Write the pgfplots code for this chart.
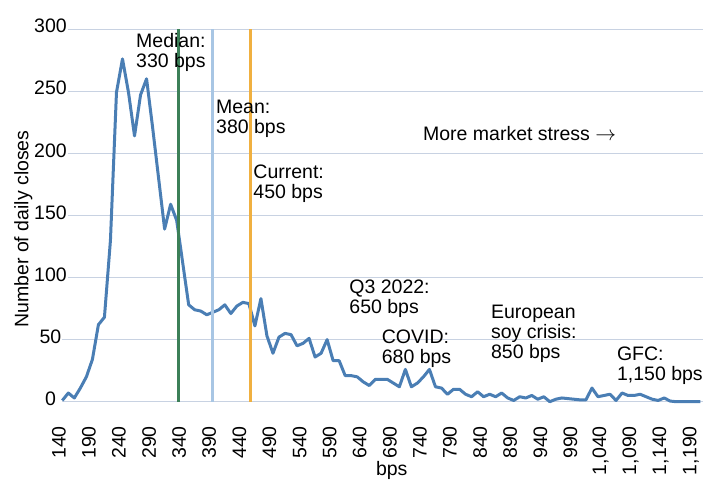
\documentclass[border=0pt]{standalone}
\usepackage{fontspec}
\setmainfont{Liberation Sans}
\usepackage{pgfplots}
\pgfplotsset{compat=1.18}
\definecolor{linecol}{RGB}{74,126,180}
\definecolor{medcol}{RGB}{60,128,88}
\definecolor{meancol}{RGB}{168,198,228}
\definecolor{curcol}{RGB}{240,176,64}
\definecolor{gridcol}{RGB}{200,210,226}
\newcommand{\f}{\fontsize{19.5}{20}\selectfont}
\begin{document}
\begin{tikzpicture}
\begin{axis}[
 at={(0,0)}, anchor=south west,
 scale only axis, width=641pt, height=372.6pt,
 xmin=140, xmax=1205, ymin=0, ymax=300,
 axis line style={draw=none},
 tick style={draw=none},
 ymajorgrids, grid style={gridcol, line width=1.2pt},
 ytick={0,50,...,300},
 xtick={140,190,...,1190},
 /pgf/number format/assume math mode=true,
 /pgf/number format/1000 sep={,},
 tick label style={font=\f},
 xticklabel style={inner sep=0pt, xshift=-3.5pt, yshift=-24.3pt, rotate=90, anchor=east},
 yticklabel style={inner sep=1pt, fill=white, xshift=-11.8pt, yshift=3pt, anchor=center},
 xlabel={bps}, ylabel={Number of daily closes},
 label style={font=\f},
 xlabel style={at={(axis description cs:0.514,-0.1994)}, anchor=base},
 ylabel style={at={(axis description cs:-0.0608,0.4635)}, anchor=center},
 clip=false,
]
\addplot[linecol, line width=3pt, line join=round, mark=none] coordinates {
(140,1) (150,7) (160,3) (170,11) (180,20) (190,34) (200,62) (210,68) (220,130) (230,249)
(240,276) (250,249) (260,214) (270,247) (280,260) (290,221) (300,180) (310,139) (320,159) (330,146)
(340,112) (350,78) (360,74) (370,73) (380,70) (390,72) (400,74) (410,78) (420,71) (430,77)
(440,80) (450,79) (460,61) (470,83) (480,53) (490,39) (500,52) (510,55) (520,54) (530,45)
(540,47) (550,51) (560,36) (570,39) (580,50) (590,33) (600,33) (610,21) (620,21) (630,20)
(640,16) (650,13) (660,18) (670,18) (680,18) (690,15) (700,12) (710,26) (720,12) (730,15)
(740,20) (750,26) (760,12) (770,11) (780,6) (790,10) (800,10) (810,6) (820,4) (830,8)
(840,4) (850,6) (860,4) (870,7) (880,3) (890,1) (900,4) (910,3) (920,5) (930,2)
(940,4) (950,0) (960,2) (970,3) (980,2.5) (990,2) (1000,1.5) (1010,1.5) (1020,11) (1030,4)
(1040,5) (1050,6) (1060,1) (1070,7) (1080,5) (1090,5) (1100,6) (1110,4) (1120,2) (1130,1)
(1140,3) (1150,0.5) (1160,0) (1170,0) (1180,0) (1190,0) (1200,0)
};
\addplot[medcol, line width=3pt, mark=none] coordinates {(333,0) (333,300)};
\addplot[meancol, line width=3pt, mark=none] coordinates {(389,0) (389,300)};
\addplot[curcol, line width=3pt, mark=none] coordinates {(452,0) (452,300)};
\node[anchor=north west, inner sep=0pt, align=left, font=\f] at (axis cs:262.4,296.6) {Median:\\330 bps};
\node[anchor=north west, inner sep=0pt, align=left, font=\f] at (axis cs:395.3,242.9) {Mean:\\380 bps};
\node[anchor=north west, inner sep=0pt, align=left, font=\f] at (axis cs:457.3,190.6) {Current:\\450 bps};
\node[anchor=north west, inner sep=0pt, align=left, font=\f] at (axis cs:739.2,222) {More market stress $\rightarrow$};
\node[anchor=north west, inner sep=0pt, align=left, font=\f] at (axis cs:616.7,98) {Q3 2022:\\650 bps};
\node[anchor=north west, inner sep=0pt, align=left, font=\f] at (axis cs:670.6,57.7) {COVID:\\680 bps};
\node[anchor=north west, inner sep=0pt, align=left, font=\f] at (axis cs:852.1,77.9) {European\\soy crisis:\\850 bps};
\node[anchor=north west, inner sep=0pt, align=left, font=\f] at (axis cs:1061.4,44.3) {GFC:\\1,150 bps};
\end{axis}
\pgfresetboundingbox
\path[use as bounding box] (-62.3pt,-78.3pt) rectangle (647.7pt,401.7pt);
\end{tikzpicture}
\end{document}
